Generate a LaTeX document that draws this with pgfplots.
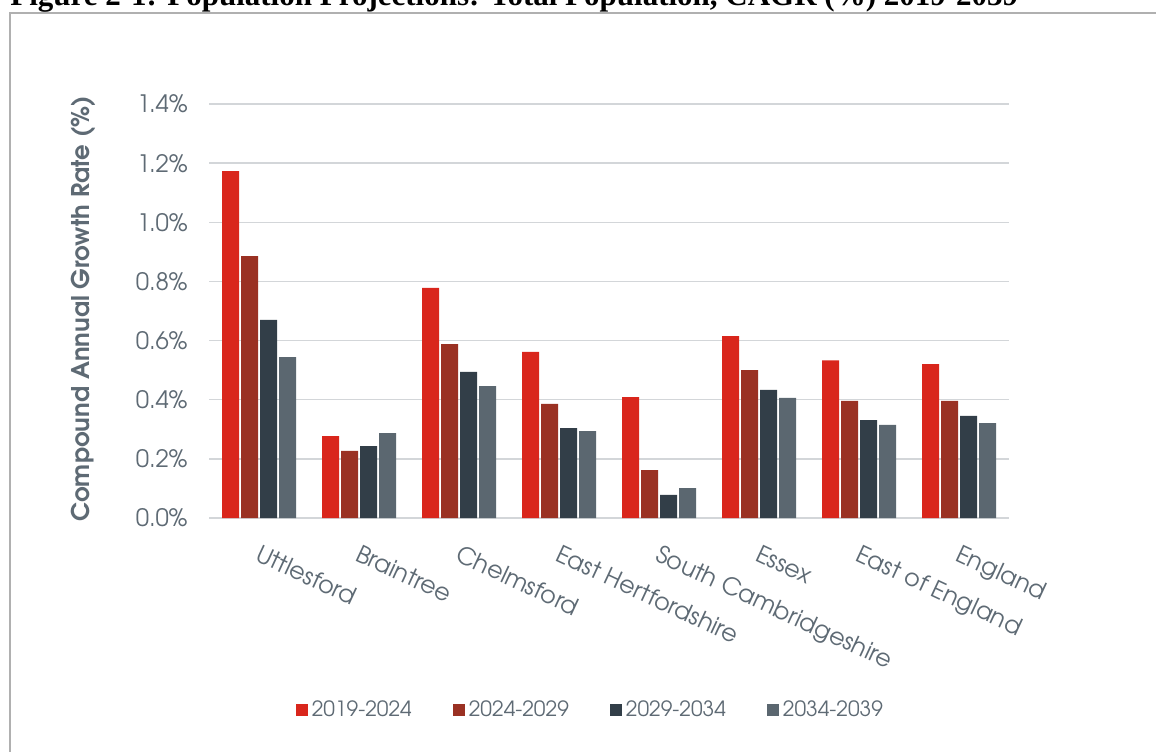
\documentclass[border=0pt]{standalone}
\usepackage{pgfplots}
\pgfplotsset{compat=1.18}
\usepackage{fontspec}
\setmainfont{TeX Gyre Adventor}
\newfontfamily\titlefont{Liberation Serif}
\definecolor{cA}{HTML}{D9261C}
\definecolor{cB}{HTML}{9A3123}
\definecolor{cC}{HTML}{323E48}
\definecolor{cD}{HTML}{5B6770}
\definecolor{txt}{HTML}{5E6A74}
\definecolor{gridc}{HTML}{D3D6D9}
\definecolor{framec}{HTML}{B0B0B0}
\begin{document}
\begin{tikzpicture}
\draw[framec, line width=1pt] (5pt,-6.5pt) rectangle (600pt,-400pt);
\node[anchor=base west, inner sep=0pt, font=\titlefont\bfseries\fontsize{15.5}{17}\selectfont] at (5pt,-2.5pt) {Figure 2-1: Population Projections: Total Population, CAGR (\%) 2019-2039};
\begin{axis}[
 at={(104.5pt,-259pt)}, anchor=south west,
 scale only axis, width=400pt, height=207pt,
 xmin=-0.5, xmax=7.5, ymin=0, ymax=1.4,
 ybar=1pt, bar width=8.5pt,
 axis line style={draw=none},
 major tick length=0pt,
 ymajorgrids, grid style={gridc, line width=0.75pt},
 ytick={0,0.2,0.4,0.6,0.8,1.0,1.2,1.4},
 yticklabel={\pgfmathprintnumber[assume math mode=true,fixed,fixed zerofill,precision=1]{\tick}\%},
 yticklabel style={anchor=east, inner sep=0pt, xshift=-10.5pt, font=\fontsize{12}{14}\selectfont, text=txt},
 xtick={0,1,2,3,4,5,6,7},
 xticklabels={Uttlesford,Braintree,Chelmsford,East Hertfordshire,South Cambridgeshire,Essex,East of England,England},
 xticklabel style={rotate=-25, anchor=north west, inner sep=0pt, yshift=-11pt, xshift=6.5pt, font=\fontsize{12}{14}\selectfont, text=txt},
 ylabel={Compound Annual Growth Rate (\%)},
 ylabel style={at={(axis description cs:-0.1575,0.505)}, anchor=center, font=\bfseries\fontsize{12.2}{14}\selectfont, text=txt},
 legend style={at={(0.478,-0.4638)}, anchor=center, draw=none, fill=none, legend columns=4, font=\fontsize{10.5}{12}\selectfont, text=txt, /tikz/every even column/.append style={column sep=18.5pt}},
 legend image code/.code={\fill[#1] (0pt,-3pt) rectangle (6pt,3pt);},
]
\addplot[draw=none, fill=cA] coordinates {(0,1.173) (1,0.277) (2,0.778) (3,0.562) (4,0.409) (5,0.615) (6,0.533) (7,0.520)};
\addlegendentry{2019-2024}
\addplot[draw=none, fill=cB] coordinates {(0,0.886) (1,0.227) (2,0.588) (3,0.386) (4,0.162) (5,0.500) (6,0.396) (7,0.396)};
\addlegendentry{2024-2029}
\addplot[draw=none, fill=cC] coordinates {(0,0.670) (1,0.243) (2,0.494) (3,0.304) (4,0.078) (5,0.433) (6,0.331) (7,0.345)};
\addlegendentry{2029-2034}
\addplot[draw=none, fill=cD] coordinates {(0,0.544) (1,0.287) (2,0.446) (3,0.294) (4,0.101) (5,0.406) (6,0.315) (7,0.321)};
\addlegendentry{2034-2039}
\end{axis}
\pgfresetboundingbox
\path (0pt,0pt) rectangle (578pt,-375.5pt);
\end{tikzpicture}
\end{document}
